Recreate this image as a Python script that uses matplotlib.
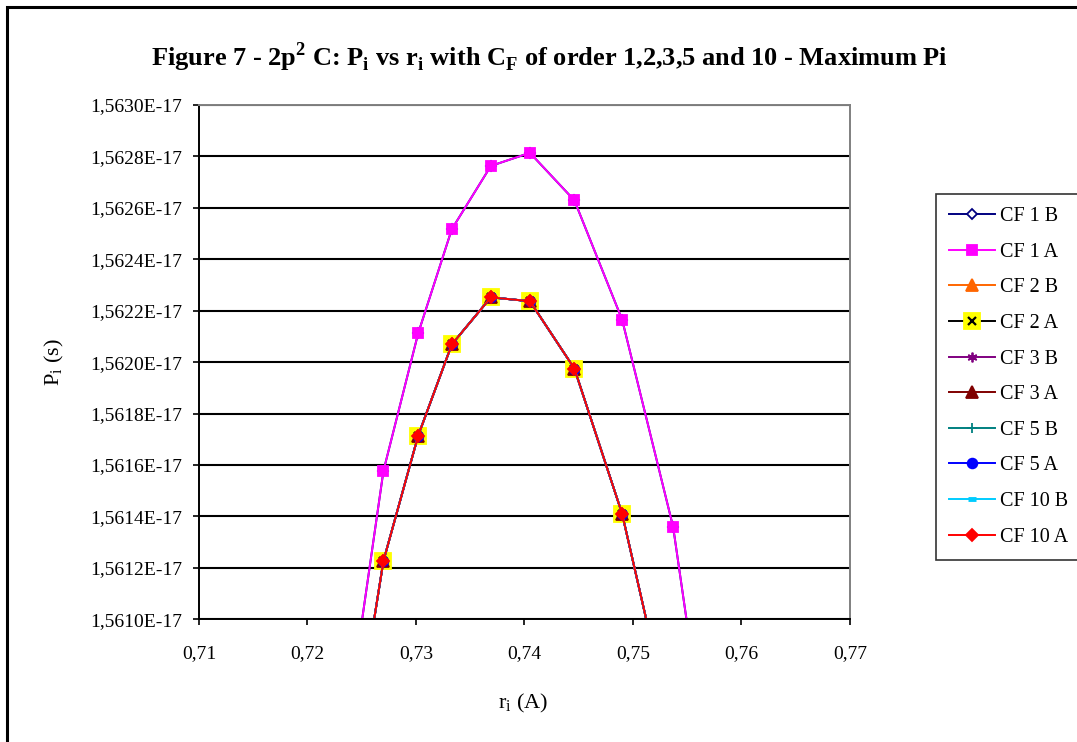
import numpy as np
import matplotlib
matplotlib.use('Agg')
import matplotlib.pyplot as plt
from matplotlib.patches import Rectangle
from matplotlib.ticker import FuncFormatter, MultipleLocator

plt.rcParams['font.family'] = ['Liberation Serif', 'DejaVu Serif']
plt.rcParams['mathtext.fontset'] = 'custom'
plt.rcParams['mathtext.rm'] = 'Liberation Serif'

# r_i (A) values of the bond length scan
r_i = [0.7240, 0.7270, 0.7302, 0.7333, 0.7369, 0.7405, 0.7446, 0.7490, 0.7537, 0.7588]

# P_i (in units of 1E-17 s)
pi_cf1 = [1.560695, 1.561577, 1.562112, 1.562517, 1.562763, 1.562814,
          1.562629, 1.562165, 1.561359, 1.559870]
pi_cf2 = [1.560433, 1.561227, 1.561714, 1.562069, 1.562252, 1.562237,
          1.561975, 1.561410, 1.560542, 1.559200]
pi_cf3 = pi_cf2
pi_cf5 = pi_cf2
pi_cf10 = pi_cf2

labels = ['CF 1 B', 'CF 1 A', 'CF 2 B', 'CF 2 A', 'CF 3 B',
          'CF 3 A', 'CF 5 B', 'CF 5 A', 'CF 10 B', 'CF 10 A']
series = [pi_cf1, pi_cf1, pi_cf2, pi_cf2, pi_cf3,
          pi_cf3, pi_cf5, pi_cf5, pi_cf10, pi_cf10]

# line colour, marker, marker face, marker edge, marker size, marker edge width
styles = [
    ('#000080', 'D', 'white', '#000080', 5.5, 1.3),
    ('#FF00FF', 's', '#FF00FF', '#FF00FF', 7.0, 1.3),
    ('#FF6600', '^', '#FF6600', '#FF6600', 8.0, 1.3),
    ('#000000', 's', '#FFFF00', '#FFFF00', 11.0, 1.3),
    ('#800080', (6, 2, 0), '#800080', '#800080', 7.0, 1.3),
    ('#800000', '^', '#800000', '#800000', 8.5, 1.3),
    ('#008080', '+', '#008080', '#008080', 7.0, 1.3),
    ('#0000FF', 'o', '#0000FF', '#0000FF', 7.0, 1.3),
    ('#00CCFF', '_', '#00CCFF', '#00CCFF', 6.0, 3.5),
    ('#FF0000', 'D', '#FF0000', '#FF0000', 6.5, 1.3),
]

fig = plt.figure(figsize=(10.77, 7.42), dpi=100)
ax = fig.add_axes([199/1077, 1-619.3/742, 651/1077, 514.3/742])

x = np.array(r_i)
handles = []
for lab, vals, st in zip(labels, series, styles):
    col, mk, fc, ec, ms, mew = st
    y = np.array(vals) * 1e-17
    h, = ax.plot(x, y, color=col, lw=1.4, marker=mk, markerfacecolor=fc,
                 markeredgecolor=ec, markersize=ms, markeredgewidth=mew)
    if lab == 'CF 2 A':
        hx, = ax.plot(x, y, ls='none', marker='x', color='black',
                      markersize=6, markeredgewidth=1.6)
        handles.append((h, hx))
    else:
        handles.append(h)

ax.set_xlim(0.71, 0.77)
ax.set_ylim(1.5610e-17, 1.5630e-17)
ax.xaxis.set_major_locator(MultipleLocator(0.01))
ax.yaxis.set_major_locator(MultipleLocator(0.0002e-17))
ax.xaxis.set_major_formatter(FuncFormatter(lambda v, p: f"{v:.2f}".replace('.', ',')))
ax.yaxis.set_major_formatter(FuncFormatter(lambda v, p: f"{v/1e-17:.4f}".replace('.', ',') + "E-17"))
ax.tick_params(axis='both', direction='out', length=4.3, width=1.2, labelsize=14, colors='black')
ax.tick_params(axis='x', pad=14)
ax.tick_params(axis='y', pad=8)

ax.grid(axis='y', color='black', lw=1.5)
ax.set_axisbelow(True)
for s in ['left', 'bottom']:
    ax.spines[s].set_color('black')
    ax.spines[s].set_linewidth(1.4)
for s in ['top', 'right']:
    ax.spines[s].set_color('#808080')
    ax.spines[s].set_linewidth(1.4)

ax.set_xlabel(r'r$_\mathregular{i}$ (A)', fontsize=16)
ax.set_ylabel(r'P$_\mathregular{i}$ (s)', fontsize=16)
ax.xaxis.set_label_coords(0.498, -0.141)
ax.yaxis.set_label_coords(-0.205, 0.5)

fig.text(549/1077, 1-57/742,
         r'Figure 7 - 2p$^\mathregular{2}$ C: P$_\mathregular{i}$ vs r$_\mathregular{i}$ with '
         r'C$_\mathregular{F}$ of order 1,2,3,5 and 10 - Maximum Pi',
         ha='center', va='center', fontsize=19, fontweight='bold')

leg = fig.legend(handles, labels, loc='upper left', bbox_to_anchor=(936/1077, 1-194/742),
                 fontsize=14.5, frameon=True, fancybox=False, borderaxespad=0,
                 handlelength=2.3, labelspacing=0.82, handletextpad=0.25, borderpad=0.65)
leg.get_frame().set_edgecolor('black')
leg.get_frame().set_linewidth(1.2)

# chart area outline (cut off at right and bottom)
fig.patches.append(Rectangle((7/1077, -0.2), 1.2, 1.2 - 7/742, transform=fig.transFigure,
                             fill=False, edgecolor='black', lw=2.2))

fig.savefig('out.png', dpi=100)
